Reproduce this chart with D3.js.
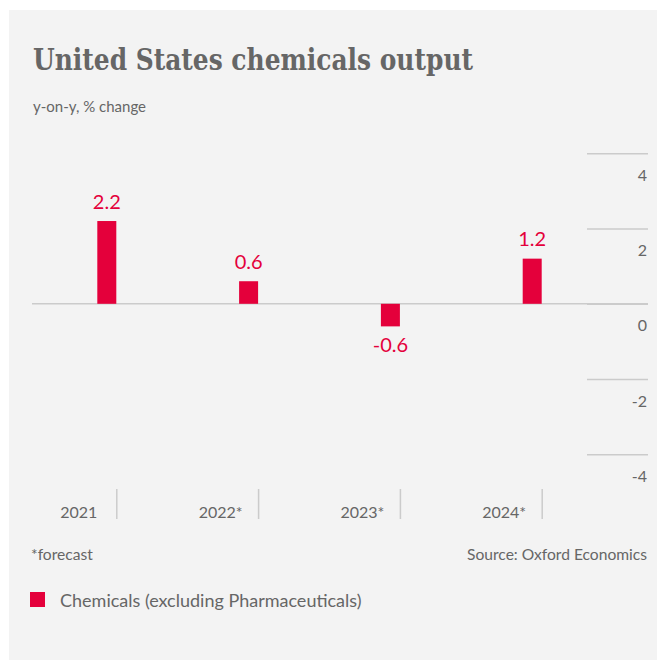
<!DOCTYPE html>
<html><head><meta charset="utf-8">
<script src="https://cdn.jsdelivr.net/npm/d3@7"></script>
<style>
body{margin:0;background:#fff;}
text{font-family:Lato,"Noto Sans",sans-serif;}
</style></head><body>
<script>
const categories = ["2021", "2022*", "2023*", "2024*"];
const values = [2.2, 0.6, -0.6, 1.2];
const yTicks = [4, 2, 0, -2, -4];
const seriesName = "Chemicals (excluding Pharmaceuticals)";
const titleText = "United States chemicals output";
const subtitleText = "y-on-y, % change";
const footnoteText = "*forecast";
const sourceText = "Source: Oxford Economics";

const W = 657, H = 660;
const barColor = "#e4003b", textColor = "#666666", gridColor = "#cbcbcb";
const loc = d3.formatLocale({decimal: ".", thousands: ",", grouping: [3], currency: ["", ""], minus: "-"});
const fmtTick = loc.format("d"), fmtVal = loc.format(".1f");

const svg = d3.select("body").append("svg").attr("width", W).attr("height", H);
svg.append("rect").attr("x", 9).attr("y", 10).attr("width", W - 9).attr("height", H - 10).attr("fill", "#f3f3f3");

svg.append("text").attr("x", 33).attr("y", 69.5).text(titleText)
  .style("font-family", "'DejaVu Serif Condensed','DejaVu Serif',serif")
  .attr("textLength", 440).attr("lengthAdjust", "spacingAndGlyphs")
  .attr("font-weight", "bold").attr("font-size", 30).attr("fill", "#666666");
svg.append("text").attr("x", 33).attr("y", 111.5).text(subtitleText)
  .attr("font-size", 15).attr("fill", textColor);

const y = d3.scaleLinear().domain([-4, 4]).range([454.3, 153.3]);
const x = d3.scalePoint().domain(categories).range([116.3, 541.7]);
const barW = 19;

// y axis: short gridlines on right with labels below them
const yAxis = svg.append("g").attr("transform", "translate(648,0)")
  .call(d3.axisLeft(y).tickValues(yTicks).tickSize(61).tickFormat(fmtTick));
yAxis.select(".domain").remove();
yAxis.selectAll(".tick line").attr("stroke", gridColor).attr("stroke-width", 1.5);
yAxis.selectAll(".tick text").attr("x", -1).attr("dy", 27).attr("font-size", 16)
  .attr("fill", textColor).style("font-family", "Lato,'Noto Sans',sans-serif");

// zero line across the chart
svg.append("line").attr("x1", 32).attr("x2", 648).attr("y1", y(0)).attr("y2", y(0))
  .attr("stroke", gridColor).attr("stroke-width", 1.5);

// x axis: separators with labels to the left
const xAxis = svg.append("g").attr("transform", "translate(0,489)")
  .call(d3.axisBottom(x).tickSize(30));
xAxis.select(".domain").remove();
xAxis.selectAll(".tick line").attr("stroke", gridColor).attr("stroke-width", 1.5);
xAxis.selectAll(".tick text").attr("x", -38).attr("y", 29).attr("dy", 0).attr("font-size", 16)
  .attr("fill", textColor).style("font-family", "Lato,'Noto Sans',sans-serif");

const data = categories.map((c, i) => ({c, v: values[i]}));
svg.append("g").selectAll("rect").data(data).join("rect")
  .attr("x", d => x(d.c) - barW).attr("width", barW)
  .attr("y", d => y(Math.max(0, d.v))).attr("height", d => Math.abs(y(d.v) - y(0)))
  .attr("fill", barColor);

svg.append("g").selectAll("text").data(data).join("text")
  .attr("x", d => x(d.c) - barW / 2)
  .attr("y", d => d.v >= 0 ? y(d.v) - 12.5 : y(d.v) + 26)
  .attr("text-anchor", "middle").attr("font-size", 20).attr("fill", barColor)
  .text(d => fmtVal(d.v));

svg.append("text").attr("x", 31).attr("y", 560).text(footnoteText).attr("font-size", 15.6).attr("fill", textColor);
svg.append("text").attr("x", 647).attr("y", 560).attr("text-anchor", "end").text(sourceText).attr("font-size", 15.6).attr("fill", textColor);

svg.append("rect").attr("x", 30).attr("y", 592).attr("width", 15).attr("height", 15).attr("fill", barColor);
svg.append("text").attr("x", 60).attr("y", 607).text(seriesName).attr("font-size", 18).attr("fill", textColor);
</script>
</body></html>
